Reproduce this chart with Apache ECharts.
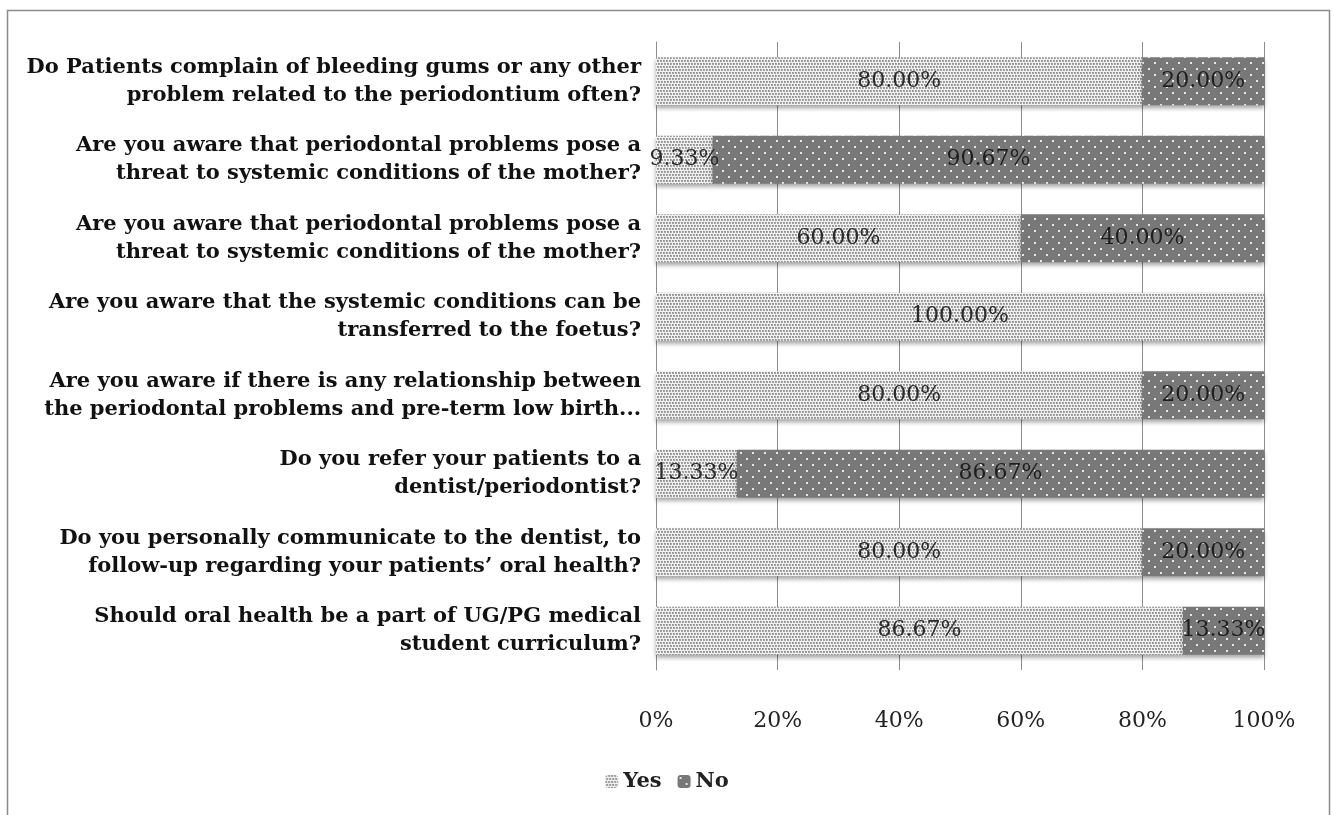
<!DOCTYPE html>
<html>
<head>
<meta charset="utf-8">
<script src="https://cdn.jsdelivr.net/npm/echarts@6/dist/echarts.min.js"></script>
<style>
html,body{margin:0;padding:0;background:#fff;}
#chart{width:1334px;height:815px;}
</style>
</head>
<body>
<div id="chart"></div>
<script>
// Survey questions (top to bottom) and the share answering Yes / No
const questions = [
  'Do Patients complain of bleeding gums or any other\nproblem related to the periodontium often?',
  'Are you aware that periodontal problems pose a\nthreat to systemic conditions of the mother?',
  'Are you aware that periodontal problems pose a\nthreat to systemic conditions of the mother?',
  'Are you aware that the systemic conditions can be\ntransferred to the foetus?',
  'Are you aware if there is any relationship between\nthe periodontal problems and pre-term low birth...',
  'Do you refer your patients to a\ndentist/periodontist?',
  'Do you personally communicate to the dentist, to\nfollow-up regarding your patients\u2019 oral health?',
  'Should oral health be a part of UG/PG medical\nstudent curriculum?'
];
const yesValues = [80.00, 9.33, 60.00, 100.00, 80.00, 13.33, 80.00, 86.67];
const noValues  = [20.00, 90.67, 40.00, 0, 20.00, 86.67, 20.00, 13.33];
const axisTicks = [0, 20, 40, 60, 80, 100];

const SERIF = '"DejaVu Serif", "Liberation Serif", serif';

// Dotted fill textures for the two answers
function makePattern(size, base, dots) {
  const c = document.createElement('canvas');
  c.width = size; c.height = size;
  const g = c.getContext('2d');
  g.fillStyle = base; g.fillRect(0, 0, size, size);
  dots.forEach(d => { g.fillStyle = d[4]; g.fillRect(d[0], d[1], d[2], d[3]); });
  return c;
}
const yesTex = makePattern(6, '#f0f0f0', [
  [0, 0, 2, 2, '#a4a4a4'], [3, 0, 2, 2, '#a4a4a4'],
  [1, 3, 2, 2, '#a4a4a4'], [4, 3, 2, 2, '#a4a4a4'],
  [0, 0, 1, 1, '#8a8a8a'], [3, 0, 1, 1, '#8a8a8a'],
  [1, 3, 1, 1, '#8a8a8a'], [4, 3, 1, 1, '#8a8a8a']
]);
const noTex = makePattern(12, '#787878', [
  [2, 2, 2, 2, '#e6e6e6'], [8, 8, 2, 2, '#e6e6e6']
]);

const chart = echarts.init(document.getElementById('chart'), null, {renderer: 'canvas'});

function pctLabel(p) {
  return p.value > 0 ? p.value.toFixed(2) + '%' : '';
}

const barShadow = {shadowColor: 'rgba(0,0,0,0.35)', shadowBlur: 4, shadowOffsetY: 3};

chart.setOption({
  animation: false,
  backgroundColor: '#fff',
  graphic: [{
    type: 'rect',
    shape: {x: 7.5, y: 10.5, width: 1322, height: 820},
    style: {fill: 'none', stroke: '#8a8a8a', lineWidth: 1.5},
    silent: true
  }],
  legend: {
    bottom: 18,
    left: 'center',
    itemWidth: 13,
    itemHeight: 13,
    itemGap: 16,
    textStyle: {fontFamily: SERIF, fontSize: 21, fontWeight: 'bold', color: '#222'},
    data: ['Yes', 'No']
  },
  grid: {left: 656, right: 70, top: 42, bottom: 145, containLabel: false},
  xAxis: {
    type: 'value',
    min: 0, max: 100, interval: 20,
    axisLine: {show: false},
    axisTick: {show: false},
    splitLine: {show: true, lineStyle: {color: '#8c8c8c', width: 1}},
    axisLabel: {
      margin: 40,
      fontFamily: SERIF, fontSize: 22, color: '#222',
      formatter: v => axisTicks.indexOf(v) >= 0 ? v + '%' : ''
    }
  },
  yAxis: {
    type: 'category',
    inverse: true,
    data: questions,
    axisLine: {show: true, lineStyle: {color: '#8c8c8c'}},
    axisTick: {show: false},
    axisLabel: {
      margin: 15,
      fontFamily: SERIF, fontSize: 21, fontWeight: 'bold', color: '#111',
      lineHeight: 28, align: 'right'
    }
  },
  series: [
    {
      name: 'Yes', type: 'bar', stack: 'total', barWidth: '61%',
      data: yesValues,
      itemStyle: Object.assign({color: {image: yesTex, repeat: 'repeat'}}, barShadow),
      label: {show: true, position: 'inside', formatter: pctLabel,
              fontFamily: SERIF, fontSize: 22, color: '#2a2a2a'}
    },
    {
      name: 'No', type: 'bar', stack: 'total', barWidth: '61%',
      data: noValues,
      itemStyle: Object.assign({color: {image: noTex, repeat: 'repeat'}}, barShadow),
      label: {show: true, position: 'inside', formatter: pctLabel,
              fontFamily: SERIF, fontSize: 22, color: '#1e1e1e'}
    }
  ]
});
</script>
</body>
</html>
